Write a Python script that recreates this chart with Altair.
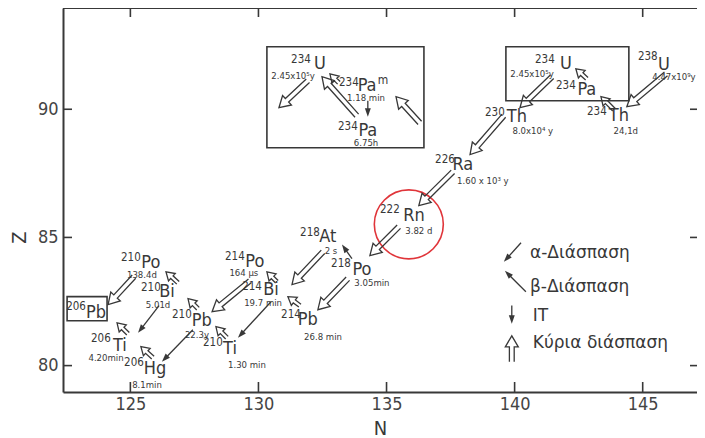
import math
import altair as alt
import pandas as pd

# ---------------- axis ranges ----------------
N_RANGE = [122.37, 147.12]
Z_RANGE = [78.97, 93.95]
N_TICKS = [125, 130, 135, 140, 145]
Z_TICKS = [80, 85, 90]

# ---------------- nuclide symbols ----------------
sym_text = ["U", "Th", "Pa", "U", "Th", "Ra", "Rn", "Po", "At", "Pb", "Bi", "Po", "Ti",
            "Pb", "Bi", "Po", "Pb", "Ti", "Hg", "Pa", "Pa", "U"]
sym_n = [145.83, 144.07, 142.82, 142.00, 140.09, 137.98, 136.07, 134.04, 132.71, 131.93, 130.49,
         129.86, 128.89, 127.79, 126.43, 125.80, 123.66, 124.59, 125.96, 134.24, 134.27, 132.40]
sym_z = [91.74, 89.75, 90.76, 91.77, 89.71, 87.84, 85.85, 83.74, 85.03, 81.79, 82.96,
         84.05, 80.66, 81.75, 82.88, 84.01, 82.06, 80.78, 79.88, 90.92, 89.16, 91.77]

# ---------------- mass numbers ----------------
mass_text = ["238", "234", "234", "234", "230", "226", "222", "218", "218", "214", "214",
             "214", "210", "210", "210", "210", "206", "206", "206", "234", "234", "234"]
mass_n = [145.20, 143.21, 142.00, 141.18, 139.23, 137.28, 135.13, 133.22, 132.01, 131.27, 129.75,
          129.08, 128.22, 127.01, 125.80, 125.02, 122.88, 123.85, 125.14, 133.53, 133.49, 131.66]
mass_z = [92.05, 89.90, 90.92, 91.93, 89.86, 88.03, 86.08, 83.97, 85.18, 81.99, 83.08,
          84.25, 80.89, 81.99, 83.04, 84.21, 82.30, 81.05, 80.11, 91.03, 89.32, 91.93]

# ---------------- half-lives ----------------
half_text = ["4.47x10⁹y", "24,1d", "2.45x10⁵y", "8.0x10⁴ y", "1.60 x 10³ y", "3.82 d", "3.05min",
             "2 s", "26.8 min", "19.7 min", "164 µs", "1.30 min", "22.3y", "5.01d", "138.4d",
             "4.20min", "8.1min", "1.18 min", "6.75h", "2.45x10⁵y"]
half_n = [146.22, 144.34, 140.68, 140.71, 138.76, 136.26, 134.43, 132.83, 132.52, 130.18, 129.43,
          129.55, 127.60, 126.08, 125.45, 124.05, 125.65, 134.20, 134.20, 131.35]
half_z = [91.27, 89.14, 91.38, 89.14, 87.19, 85.24, 83.21, 84.48, 81.11, 82.43, 83.60,
          80.02, 81.20, 82.36, 83.54, 80.31, 79.25, 90.43, 88.70, 91.31]

# isomer mark
iso_text = ["m"]
iso_n = [134.86]
iso_z = [91.15]

# ---------------- boxes ----------------
box_n1 = [130.33, 139.66, 122.53]
box_n2 = [136.46, 144.46, 124.09]
box_z1 = [92.44, 92.44, 82.69]
box_z2 = [88.50, 90.33, 81.75]

# ---------------- highlighted nuclide (Rn-222) ----------------
circ_n = [135.87]
circ_z = [85.51]

# ---------------- hollow (main decay) arrows: tail -> tip ----------------
hol_tail_n = [145.91, 143.88, 142.82, 141.46, 139.58, 137.59, 135.48, 132.52, 133.49, 131.62, 130.72,
              129.67, 128.77, 127.64, 126.86, 125.14, 124.91, 125.88, 131.93, 133.84, 133.14, 136.30, 139.89]
hol_tail_z = [91.38, 89.98, 91.19, 91.27, 89.75, 87.56, 85.42, 84.44, 83.39, 82.34, 83.27,
              83.31, 81.09, 82.22, 83.23, 83.47, 81.24, 80.31, 91.11, 89.75, 91.03, 89.47, 80.15]
hol_tip_n = [144.38, 143.37, 142.39, 140.21, 138.26, 136.26, 134.35, 131.31, 132.32, 131.15, 130.33,
             128.19, 128.34, 127.25, 126.39, 124.13, 124.48, 125.41, 130.80, 132.48, 132.79, 135.37, 139.89]
hol_tip_z = [90.10, 90.49, 91.58, 90.06, 88.23, 86.24, 84.29, 83.16, 82.18, 82.69, 83.66,
             82.10, 81.52, 82.61, 83.66, 82.38, 81.67, 80.74, 90.06, 91.27, 91.38, 90.49, 81.16]

# ---------------- thin (branch / IT / legend) arrows: tail -> tip ----------------
sol_tail_n = [133.65, 130.49, 127.44, 126.12, 134.27, 140.25, 140.44, 139.89]
sol_tail_z = [84.17, 82.49, 81.40, 82.34, 90.33, 84.79, 82.88, 82.34]
sol_tip_n = [133.26, 129.20, 126.23, 125.30, 134.27, 139.58, 139.62, 139.89]
sol_tip_z = [84.72, 81.09, 80.15, 81.28, 89.71, 84.05, 83.70, 81.63]

# ---------------- legend ----------------
leg_text = ["α-Διάσπαση", "β-Διάσπαση", "IT", "Κύρια διάσπαση"]
leg_n = [140.60, 140.60, 140.71, 140.71]
leg_z = [84.40, 83.08, 81.95, 80.89]

# ================= build =================
W, H = 634, 384
PX = (N_RANGE[1] - N_RANGE[0]) / W   # data units per pixel (same on both axes)
INK = "#383838"
NARROW = "Liberation Sans Narrow, DejaVu Sans Condensed, sans-serif"

rows = []
for i, (tn, tz, hn, hz) in enumerate(zip(hol_tail_n, hol_tail_z, hol_tip_n, hol_tip_z)):
    dx, dy = hn - tn, hz - tz
    L = math.hypot(dx, dy)
    ux, uy = dx / L, dy / L
    nx, ny = -uy, ux
    if L / PX < 22:
        g, w, h = 1.8, 5.0, 8.0
    else:
        g, w, h = 2.4, 6.5, 11.0
    g, w, h = g * PX, w * PX, h * PX
    bn, bz = hn - ux * h, hz - uy * h
    pts = [(tn + nx * g, tz + ny * g), (bn + nx * g, bz + ny * g), (bn + nx * w, bz + ny * w),
           (hn, hz), (bn - nx * w, bz - ny * w), (bn - nx * g, bz - ny * g), (tn - nx * g, tz - ny * g)]
    for k, (pn, pz) in enumerate(pts):
        rows.append({"id": i, "o": k, "n": pn, "z": pz})
hollow_df = pd.DataFrame(rows)

sl, sh = [], []
for tn, tz, hn, hz in zip(sol_tail_n, sol_tail_z, sol_tip_n, sol_tip_z):
    dx, dy = hn - tn, hz - tz
    L = math.hypot(dx, dy)
    ux, uy = dx / L, dy / L
    hl = 8.5 * PX
    sl.append({"n": tn, "z": tz, "n2": hn - ux * hl * 0.7, "z2": hz - uy * hl * 0.7})
    ang = math.degrees(math.atan2(dx, dy)) % 360
    sh.append({"n": hn - ux * hl / 2, "z": hz - uy * hl / 2, "a": ang})
sline_df = pd.DataFrame(sl)
shead_df = pd.DataFrame(sh)

xs = alt.Scale(domain=N_RANGE, nice=False, zero=False)
ys = alt.Scale(domain=Z_RANGE, nice=False, zero=False)

xaxis = alt.Axis(values=N_TICKS, title="N", ticks=False, grid=False, domainColor=INK, domainWidth=2,
                 labelFont=NARROW, labelFontSize=18, labelColor="#444", labelPadding=3, format="d",
                 labelFlush=False, labelOverlap=False,
                 titleFont=NARROW, titleFontSize=20, titleFontWeight="normal", titleColor=INK,
                 titleY=42, titleBaseline="alphabetic")
yaxis = alt.Axis(values=Z_TICKS, title="Z", ticks=False, grid=False, domainColor=INK, domainWidth=2,
                 labelFont=NARROW, labelFontSize=18, labelColor="#444", labelPadding=5, format="d",
                 labelFlush=False, labelOverlap=False,
                 titleFont=NARROW, titleFontSize=20, titleFontWeight="normal", titleColor=INK,
                 titleX=-38, titleY=229, titleBaseline="alphabetic")


def X(f):
    return alt.X(f, type="quantitative", scale=xs, axis=xaxis)


def Y(f):
    return alt.Y(f, type="quantitative", scale=ys, axis=yaxis)


def text_layer(t, n, z, font, size, align="center", color=INK):
    df = pd.DataFrame({"t": t, "n": n, "z": z})
    return alt.Chart(df).mark_text(font=font, fontSize=size, align=align, baseline="middle",
                                   color=color).encode(x=X("n"), y=Y("z"), text="t:N")


boxes = alt.Chart(pd.DataFrame({"n": box_n1, "n2": box_n2, "z": box_z1, "z2": box_z2})).mark_rect(
    fill=None, stroke=INK, strokeWidth=1.6).encode(x=X("n"), x2="n2", y=Y("z"), y2="z2")

circle = alt.Chart(pd.DataFrame({"n": circ_n, "z": circ_z})).mark_point(
    shape="circle", size=4761, filled=False, stroke="#e0353a", strokeWidth=1.6, opacity=1).encode(
    x=X("n"), y=Y("z"))

hollow = alt.Chart(hollow_df).mark_line(color=INK, strokeWidth=1.3, strokeJoin="miter").encode(
    x=X("n"), y=Y("z"), detail="id:N", order="o:Q")

slines = alt.Chart(sline_df).mark_rule(color=INK, strokeWidth=1.3).encode(
    x=X("n"), x2="n2", y=Y("z"), y2="z2")

sheads = alt.Chart(shead_df).mark_point(
    shape="M0,-1L0.7,1L-0.7,1Z", size=72, filled=True, color=INK, opacity=1).encode(
    x=X("n"), y=Y("z"), angle=alt.Angle("a:Q", scale=None))

tick_n = pd.DataFrame({"n": N_TICKS})
tick_z = pd.DataFrame({"z": Z_TICKS})
ticks_bottom = alt.Chart(tick_n).mark_rule(color=INK, strokeWidth=1.6).encode(
    x=X("n"), y=alt.value(H - 10), y2=alt.value(H))
ticks_top = alt.Chart(tick_n).mark_rule(color=INK, strokeWidth=1.6).encode(
    x=X("n"), y=alt.value(0), y2=alt.value(9))
ticks_left = alt.Chart(tick_z).mark_rule(color=INK, strokeWidth=1.6).encode(
    y=Y("z"), x=alt.value(0), x2=alt.value(9))
ticks_right = alt.Chart(tick_z).mark_rule(color=INK, strokeWidth=1.6).encode(
    y=Y("z"), x=alt.value(W - 7), x2=alt.value(W))
top_line = alt.Chart(pd.DataFrame({"k": [0]})).mark_rule(color=INK, strokeWidth=2).encode(
    x=alt.value(0), x2=alt.value(W), y=alt.value(0))

symbols = text_layer(sym_text, sym_n, sym_z, NARROW, 18)
masses = text_layer(mass_text, mass_n, mass_z, NARROW, 11.5)
halves = text_layer(half_text, half_n, half_z, NARROW, 9.5)
iso = text_layer(iso_text, iso_n, iso_z, NARROW, 12)
legend = text_layer(leg_text, leg_n, leg_z, "DejaVu Sans", 17, align="left")

chart = alt.layer(
    boxes, circle, hollow, slines, sheads, ticks_bottom, ticks_top, ticks_left, ticks_right, top_line,
    symbols, masses, halves, iso, legend
).properties(
    width=W, height=H, autosize=alt.AutoSizeParams(type="none"),
    padding={"left": 55, "top": 0, "right": 0, "bottom": 46}, background="white"
).configure_view(stroke=None)

chart.save("out.html", embed_options={"renderer": "svg", "actions": False})
